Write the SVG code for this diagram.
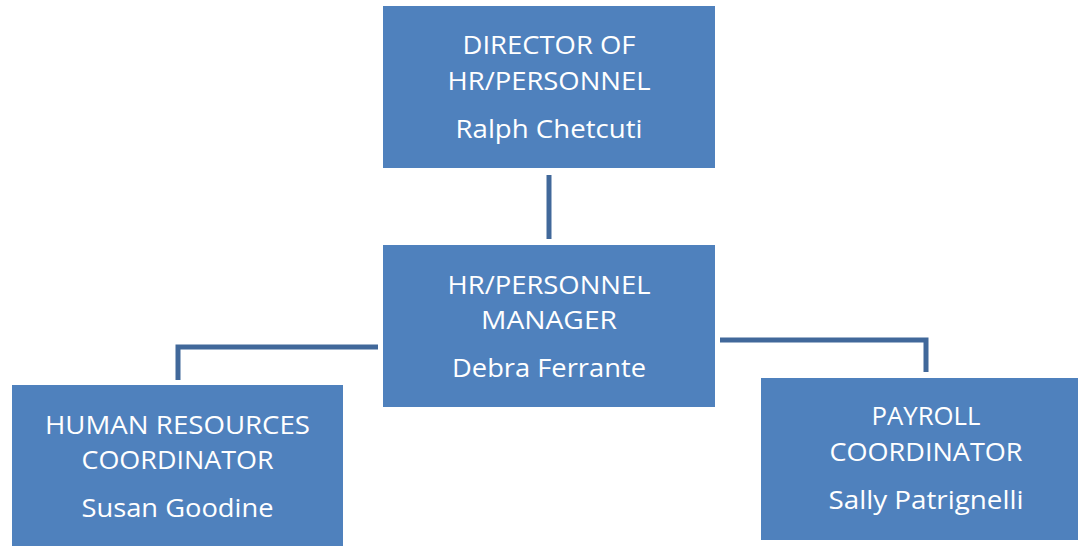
<svg xmlns="http://www.w3.org/2000/svg" width="1078" height="546" viewBox="0 0 1078 546">
<style>
.box{fill:#4F81BD;}
.t{font-family:"Open Sans","Liberation Sans",sans-serif;font-size:26px;fill:#FFFFFF;text-anchor:middle;}
.c{fill:none;stroke:#41689A;stroke-width:5;stroke-linejoin:miter;}
</style>
<rect width="1078" height="546" fill="#FFFFFF"/>
<g id="connectors">
<path class="c" d="M549 175 V239"/>
<path class="c" d="M378 347 H178 V380"/>
<path class="c" d="M720 340 H926 V372"/>
</g>
<g id="director">
<rect class="box" x="383" y="6" width="332" height="162"/>
<text class="t" x="549" y="54" textLength="173" lengthAdjust="spacingAndGlyphs">DIRECTOR OF</text>
<text class="t" x="549" y="90" textLength="203" lengthAdjust="spacingAndGlyphs">HR/PERSONNEL</text>
<text class="t" x="549" y="138" textLength="187" lengthAdjust="spacingAndGlyphs">Ralph Chetcuti</text>
</g>
<g id="manager">
<rect class="box" x="383" y="245" width="332" height="162"/>
<text class="t" x="549" y="294" textLength="203" lengthAdjust="spacingAndGlyphs">HR/PERSONNEL</text>
<text class="t" x="549" y="329" textLength="136" lengthAdjust="spacingAndGlyphs">MANAGER</text>
<text class="t" x="549" y="377" textLength="194" lengthAdjust="spacingAndGlyphs">Debra Ferrante</text>
</g>
<g id="hr-coordinator">
<rect class="box" x="12" y="385" width="331" height="161"/>
<text class="t" x="177.5" y="434" textLength="265" lengthAdjust="spacingAndGlyphs">HUMAN RESOURCES</text>
<text class="t" x="177.5" y="469" textLength="192" lengthAdjust="spacingAndGlyphs">COORDINATOR</text>
<text class="t" x="177.5" y="517" textLength="192" lengthAdjust="spacingAndGlyphs">Susan Goodine</text>
</g>
<g id="payroll-coordinator">
<rect class="box" x="761" y="378" width="317" height="162"/>
<text class="t" x="926" y="425" textLength="109" lengthAdjust="spacingAndGlyphs">PAYROLL</text>
<text class="t" x="926" y="461" textLength="193" lengthAdjust="spacingAndGlyphs">COORDINATOR</text>
<text class="t" x="926" y="509" textLength="195" lengthAdjust="spacingAndGlyphs">Sally Patrignelli</text>
</g>
</svg>
